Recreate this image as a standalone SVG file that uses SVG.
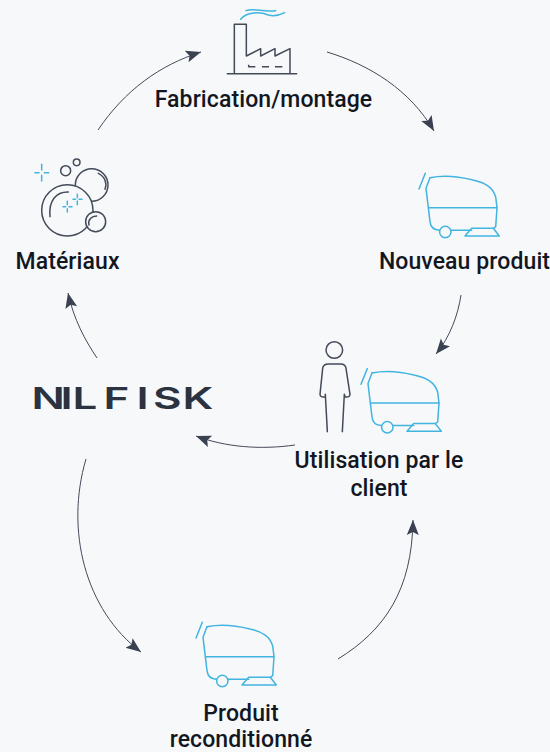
<svg xmlns="http://www.w3.org/2000/svg" xmlns:xlink="http://www.w3.org/1999/xlink" width="550" height="752" viewBox="0 0 550 752">
<style>
.lbl{font-family:Roboto,"Liberation Sans",sans-serif;font-weight:500;font-size:23px;letter-spacing:.1px;fill:#12171f;text-anchor:middle}
.dk{fill:none;stroke:#434a58;stroke-width:1.5;stroke-linecap:round;stroke-linejoin:round}
.bl{fill:none;stroke:#41b4e0;stroke-width:1.5;stroke-linecap:round;stroke-linejoin:round}
.bub{fill:#f7f8fa}
.con{fill:none;stroke:#434a58;stroke-width:1;marker-end:url(#ah)}
</style>
<defs>
<marker id="ah" markerUnits="userSpaceOnUse" markerWidth="16" markerHeight="14" refX="15" refY="6.500" orient="auto"><path d="M0 0.500L15 6.500L0 12.500L3 6.500Z" fill="#3a4150"/></marker>
<g id="machine" class="bl">
<path d="M419 189L425.300 173.300"/>
<path d="M430 177.700C443 175 460 176.700 473 180C485 182.700 493 187 495.700 197L497 207.700L495.700 226.700L493.300 228.300"/>
<path d="M430 177.700L426 188.300L430 221.700Q431 230 439.300 230.300"/>
<circle cx="445.300" cy="232" r="5.700"/>
<path d="M451.300 230.300H471.700"/>
<path d="M471.700 228.300H493.300L499.300 236H465Z"/>
<path d="M429.300 207.700H497"/>
</g>
</defs>
<rect width="550" height="752" fill="#f7f8fa"/>
<g id="connectors">
<path class="con" d="M98 130C125 90 160 65 201 52"/>
<path class="con" d="M327 52C370 65 410 90 434 131"/>
<path class="con" d="M461 295C458 315 450 337 436 354"/>
<path class="con" d="M295 445C260 450 225 447 196 436"/>
<path class="con" d="M97 358C85 340 74 320 68 293"/>
<path class="con" d="M86 459C65 530 85 610 141 652"/>
<path class="con" d="M338 659C385 630 412 590 413 520"/>
</g>
<g id="fabrication">
<g transform="translate(210 0) scale(.3333)">
<path class="dk" style="stroke-width:4.500" d="M52 221H260M73 221V73H109V168L152 146V168L195 146V168L240 146V221"/>
<path class="dk" style="stroke-width:4.500;stroke-linecap:butt" d="M116 194V200H136M156 200H177M195 200H217"/>
<path class="bl" style="stroke-width:4.500" d="M108 32C130 22 160 38 197 32M92 58C110 35 150 35 175 45C190 50 210 45 224 38"/>
</g>
<text class="lbl" x="263.500" y="106.500">Fabrication/montage</text>
</g>
<g id="nouveau-produit">
<use xlink:href="#machine" href="#machine"/>
<text class="lbl" x="464.500" y="269">Nouveau produit</text>
</g>
<g id="utilisation">
<g transform="translate(310 335) scale(.3333)">
<circle class="dk" style="stroke-width:4.500" cx="73" cy="45" r="25"/>
<path class="dk" style="stroke-width:4.500" d="M52 290L46 178V185Q30 188 30 178L38 100Q40 87 55 87H92Q106 87 108 100L120 178Q120 188 105 185L103 178L97 290"/>
</g>
<use xlink:href="#machine" href="#machine" transform="translate(-58 195.300)"/>
<text class="lbl" x="379" y="467.500">Utilisation par le</text>
<text class="lbl" x="379" y="495.500">client</text>
</g>
<g id="produit-reconditionne">
<use xlink:href="#machine" href="#machine" transform="translate(-223 449)"/>
<text class="lbl" x="241" y="721">Produit</text>
<text class="lbl" x="241" y="746.500">reconditionné</text>
</g>
<g id="materiaux">
<g transform="translate(25 150) scale(.3333)">
<circle class="dk bub" style="stroke-width:4.500" cx="200" cy="105" r="49"/>
<circle class="dk bub" style="stroke-width:4.500;fill:#f7f8fa" cx="127" cy="181" r="77"/>
<circle class="dk" style="stroke-width:4.500;fill:#f7f8fa" cx="212" cy="215" r="30"/>
<circle class="dk" style="stroke-width:4.500" cx="122" cy="62" r="15"/>
<circle class="dk" style="stroke-width:4.500" cx="155" cy="37" r="10"/>
<path class="dk" style="stroke-width:4.500" d="M130 126C95 125 70 150 75 200M220 70C240 80 247 100 240 118M192 225C188 210 200 198 215 198"/>
<path class="bl" style="stroke-width:4.500" d="M50 43V60M50 76V93M30 68H42M58 68H71M127 154V164M127 176V186M114 170H122M132 170H141M157 133V143M157 153V164M144 148H152M162 148H171"/>
</g>
<text class="lbl" x="67.500" y="269">Matériaux</text>
</g>
<g id="nilfisk">
<text transform="translate(0 409.300) scale(1.45 1)" x="21.700 41.700 50 71.400 94.100 105.500 125.900" style="font-family:Inter,Roboto,sans-serif;font-weight:600;font-size:30.300px;fill:#2b3240">NILFISK</text>
</g>
</svg>
